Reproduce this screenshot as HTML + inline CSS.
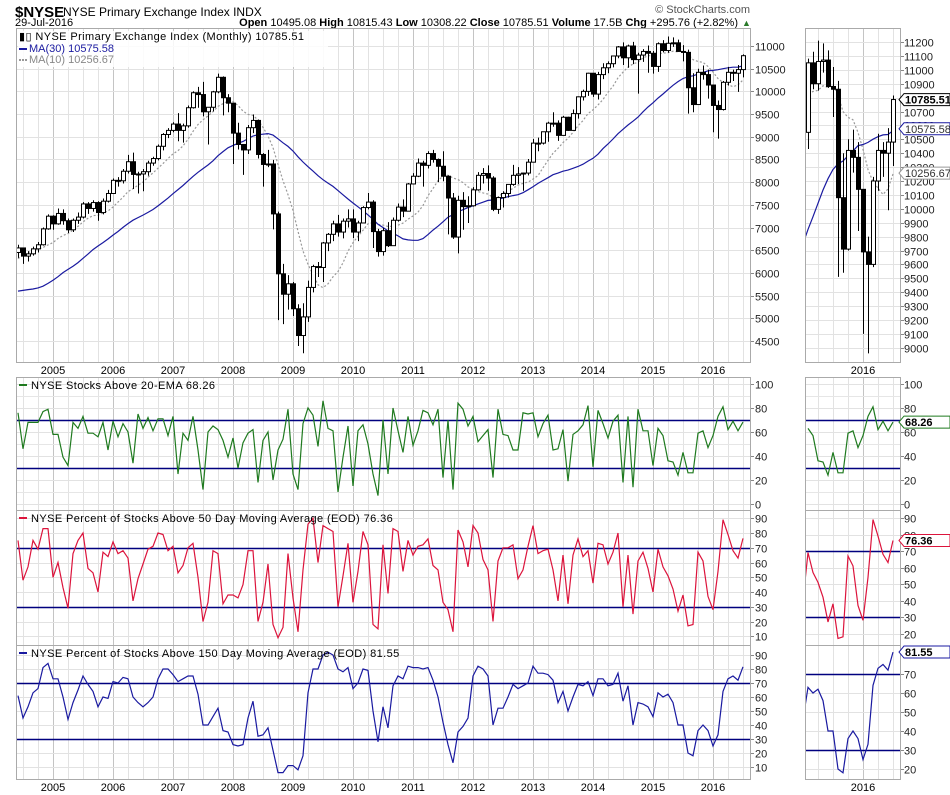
<!DOCTYPE html>
<html><head><meta charset="utf-8"><style>
body{margin:0;background:#fff;}
svg{display:block;font-family:"Liberation Sans",sans-serif;}
</style></head><body>
<svg id="c" width="950" height="795" viewBox="0 0 950 795">
<text x="15" y="17" font-size="15" font-weight="bold">$NYSE</text>
<text x="63" y="16" font-size="12">NYSE Primary Exchange Index  INDX</text>
<text x="15" y="26" font-size="11">29-Jul-2016</text>
<text x="738" y="26" font-size="11" text-anchor="end"><tspan font-weight="bold">Open</tspan> 10495.08 <tspan font-weight="bold">High</tspan> 10815.43 <tspan font-weight="bold">Low</tspan> 10308.22 <tspan font-weight="bold">Close</tspan> 10785.51 <tspan font-weight="bold">Volume</tspan> 17.5B <tspan font-weight="bold">Chg</tspan> +295.76 (+2.82%)</text>
<text x="742" y="26" font-size="9" fill="#2a7a2a">▲</text>
<text x="750" y="13" font-size="11" fill="#555" text-anchor="end">© StockCharts.com</text>
<g id="g"></g>
</svg>
<script>
// ---- data ----
const months = 146; // Jun 2004 .. Jul 2016
const preCloses = [5920,5900,6140,5880,5840,5420,4960,4990,4440,4800,5060,4850,4720,4600,4590,4960,5320,5380,5480,5600,5580,5900,5960,6440,6560,6670,6590,6400,6480];
const closes = [6550,6370,6420,6530,6620,6970,7250,
7080,7310,7150,6950,7160,7230,7520,7420,7550,7330,7580,7750,
8040,8030,8240,8450,8170,8180,8230,8420,8520,8790,9050,9140,
9280,9140,9240,9640,9970,9930,9550,9650,9990,10310,9860,9740,
9080,8830,8710,9200,9360,8610,8390,8400,7300,5980,5530,5760,
5210,4620,5030,5680,6140,6120,6660,6850,7080,6900,7140,7190,
6900,7100,7440,7560,6910,6470,6930,6600,7160,7450,7360,7960,
8130,8420,8370,8630,8500,8350,8130,7650,6790,7600,7460,7480,
7830,8150,8190,8090,7400,7660,7750,7950,8150,8180,8200,8440,
8860,8860,9110,9300,9300,9030,9430,9140,9510,9880,10000,10400,
9940,10370,10520,10610,10780,10980,10740,11000,10700,10800,10880,10840,
10550,11050,10900,11060,11070,10880,10860,10080,9710,10420,10370,10140,
9690,9600,10200,10420,10400,10480,10786];
const highs = [6620,6560,6480,6580,6680,7000,7290,
7270,7420,7400,7200,7200,7330,7560,7560,7600,7580,7640,7830,
8080,8110,8290,8600,8650,8230,8290,8470,8560,8830,9080,9190,
9320,9520,9290,9690,10000,10100,10210,9650,10010,10390,10330,9940,
9740,9310,8840,9260,9490,9380,8640,8710,8490,7350,6200,5950,
5800,5310,5330,5830,6180,6240,6680,6880,7150,7280,7200,7400,
7400,7150,7470,7760,7600,6970,6990,7120,7220,7530,7620,7980,
8200,8520,8470,8680,8710,8520,8680,8150,7760,7700,7780,7690,
7890,8220,8310,8370,8130,7680,7800,7960,8380,8330,8210,8510,
8950,8980,9110,9330,9540,9360,9460,9440,9600,9890,10040,10410,
10400,10430,10620,10660,10780,11000,11080,11030,11090,10850,10930,11010,
10890,11080,11130,11210,11190,11140,11020,10920,10400,10500,10570,10480,
10140,9800,10230,10540,10480,10580,10815];
const lows = [6330,6200,6250,6380,6450,6600,6950,
6950,7060,7060,6880,6900,7080,7200,7300,7350,7150,7290,7550,
7740,7900,7970,8190,7850,7750,7800,8140,8360,8480,8700,8970,
9100,8900,8870,9200,9620,9640,9450,8830,9560,9960,9470,9540,
8400,8720,8160,8620,9080,8520,7900,8330,6960,4960,4870,5190,
5050,4390,4230,4920,5570,5910,5800,6480,6700,6800,6760,7000,
6770,6700,7120,7400,6550,6360,6380,6570,6620,7130,7230,7400,
7950,8110,7900,8300,8430,8000,8020,6850,6750,6430,6950,7100,
7460,7810,7970,7810,7360,7300,7440,7660,7920,7960,7810,8150,
8490,8680,8830,8890,9220,8910,9080,9130,9150,9400,9800,9900,
9880,9820,10270,10400,10530,10730,10580,10520,10600,9950,10650,10410,
10390,10430,10860,10850,10980,10870,10660,9510,9540,9700,10260,9840,
9100,8960,9580,10130,10230,9990,10308];
const ema20 = [76,46,68,68,68,77,79,58,58,39,32,68,63,73,59,59,56,68,45,69,56,67,60,34,75,63,72,61,71,71,57,73,25,59,53,73,45,12,60,65,62,53,39,55,30,51,59,62,18,53,60,20,45,54,79,25,12,67,80,74,
48,86,63,61,10,39,65,15,61,66,50,25,7,70,25,80,61,43,73,49,61,78,76,66,79,22,70,12,84,79,65,73,52,57,62,22,79,58,57,45,45,76,75,76,56,67,74,45,46,62,19,58,61,66,82,31,78,67,55,69,74,18,73,14,79,61,61,32,63,57,36,35,24,43,26,26,59,61,47,57,73,81,62,69,61,68.26];
const pct50 = [75,48,57,75,69,83,83,50,60,43,29,66,75,80,56,53,40,67,64,74,66,68,63,34,49,59,69,71,80,79,68,71,53,58,70,73,50,20,33,68,66,32,38,38,36,45,68,68,20,33,59,18,9,16,66,36,13,55,86,90,60,85,83,81,30,51,73,33,54,81,72,18,15,72,39,83,81,54,75,65,71,72,76,58,55,33,28,13,82,74,57,85,80,62,55,20,61,70,70,72,49,55,71,85,66,68,69,55,34,65,32,65,76,64,68,46,73,72,59,67,80,30,65,25,61,67,56,40,69,57,51,42,27,38,17,18,67,61,37,28,54,89,79,68,63,76.36];
const pct150 = [61,45,53,63,66,81,84,73,73,60,44,56,65,75,69,64,53,60,59,71,70,74,73,60,56,53,56,60,73,80,80,76,71,73,75,75,62,40,40,46,52,36,35,26,25,26,45,57,32,33,38,22,6,6,11,11,8,18,63,80,80,90,92,90,80,78,81,66,70,80,79,50,28,53,38,68,75,73,82,81,81,80,81,72,60,42,26,13,35,39,45,75,82,80,75,40,52,52,60,69,66,68,70,82,77,77,76,72,56,64,50,60,69,68,71,61,73,73,68,69,77,57,68,40,56,55,53,46,63,60,62,56,40,40,20,18,36,40,36,25,33,64,73,75,72,81.55];
const yearLabels = ["2005","2006","2007","2008","2009","2010","2011","2012","2013","2014","2015","2016"];
const priceTicks = [11000,10500,10000,9500,9000,8500,8000,7500,7000,6500,6000,5500,5000,4500];
const zoomPriceTicks = [11200,11100,11000,10900,10800,10700,10600,10500,10400,10300,10200,10100,10000,9900,9800,9700,9600,9500,9400,9300,9200,9100,9000];
const emaTicks = [100,80,60,40,20,0];
const pctTicks = [90,80,70,60,50,40,30,20,10];
const zoomRedTicks = [90,80,70,60,50,40,30,20];
const zoomBlueTicks = [70,60,50,40,30,20];

// ---- helpers ----
const NS="http://www.w3.org/2000/svg";
const G=document.getElementById('g');
function mk(tag,attrs,parent,txt){const e=document.createElementNS(NS,tag);for(const k in attrs)e.setAttribute(k,attrs[k]);if(txt!==undefined)e.textContent=txt;(parent||G).appendChild(e);return e;}
const xL = i => 18 + 5*i;
const zStart = 128;
const xR = i => 808 + 5*(i-zStart);
const yMain = v => 46 + (11000-v)*0.04538;
const yZoom = v => 42 + (11200-v)*0.139;
const yEma = v => 504 - v*1.2;
const yRed = v => 651 - v*1.475;
const yBlue = v => 781 - v*1.4;
const yRedZ = v => 551 - (v-70)*1.65;
const yBlueZ = v => 674 - (v-70)*1.9;
const L0=16,L1=750,R0=805,R1=900;

const defs=mk('defs',{});
function clip(id,x,y,w,h){const c=mk('clipPath',{id:id},defs);mk('rect',{x:x,y:y,width:w,height:h},c);}
clip('cm',L0,28,L1-L0,334);clip('cmz',R0,28,R1-R0,334);
clip('c2',L0,377,L1-L0,133);clip('c2z',R0,377,R1-R0,133);
clip('c3',L0,510,L1-L0,135);clip('c3z',R0,510,R1-R0,135);
clip('c4',L0,645,L1-L0,134);clip('c4z',R0,645,R1-R0,134);

function vgrid(x0,x1,y0,y1,xf,i0,i1,cp){
  for(let i=i0;i<=i1;i++){
    const mo=(i+5)%12;
    if(mo%3!==0) continue;
    const x=xf(i);
    if(x<=x0||x>=x1) continue;
    const l=mk('line',{x1:x+0.5,x2:x+0.5,y1:y0,y2:y1,stroke:mo===0?'#c4c4c4':'#e2e2e2','stroke-width':1});
    
    
  }
}
function hgrid(ticks,yf,x0,x1,y0,y1,lx,name){
  ticks.forEach(t=>{const y=Math.round(yf(t))+0.5;if(y<y0||y>y1)return;
    mk('line',{x1:x0,x2:x1,y1:y,y2:y,stroke:'#e2e2e2'});
    mk('line',{x1:x1,x2:x1+4,y1:y,y2:y,stroke:'#888'});
    const t2=mk('text',{x:lx,y:y+4,'font-size':11,fill:'#222'},G,String(t));
    
    
  });
}
function box(x0,y0,x1,y1,name){const r=mk('rect',{x:x0+0.5,y:y0+0.5,width:x1-x0,height:y1-y0,fill:'none',stroke:'#aaa'});
  }
function sma(all,n,idx){let s=0;for(let k=idx-n+1;k<=idx;k++)s+=all[k];return s/n;}
const allC=preCloses.concat(closes);const off=preCloses.length;
function polyline(vals,xf,yf,i0,col,w,dash,cp,name){
  const pts=[];for(let i=i0;i<vals.length;i++)pts.push(xf(i).toFixed(1)+','+yf(vals[i]).toFixed(1));
  const p=mk('polyline',{points:pts.join(' '),fill:'none',stroke:col,'stroke-width':w,'clip-path':'url(#'+cp+')'});
  if(dash)p.setAttribute('stroke-dasharray',dash);
  
}

vgrid(L0,L1,28,362,xL,0,months-1);
vgrid(R0,R1,28,362,xR,zStart,months-1);
hgrid(priceTicks,yMain,L0,L1,28,362,755,'price-tick-label');
hgrid(zoomPriceTicks,yZoom,R0,R1,28,362,904,'zoom-price-tick-label');
const ma30=[],ma10=[];
for(let i=0;i<months;i++){ma30.push(sma(allC,30,i+off));ma10.push(sma(allC,10,i+off));}
function candles(xf,yf,i0,cp,pref){
  const g=mk('g',{'clip-path':'url(#'+cp+')'});
  for(let i=i0;i<months;i++){
    const o=i===0?6450:closes[i-1],c=closes[i],x=Math.round(xf(i));
    const w=mk('line',{x1:x+0.5,x2:x+0.5,y1:yf(highs[i]),y2:yf(lows[i]),stroke:'#000'},g);
    
    const t=Math.min(yf(o),yf(c)),b=Math.max(yf(o),yf(c));
    const r=mk('rect',{x:x-1.5,y:t,width:4,height:Math.max(b-t,1),fill:c>=o?'#fff':'#000',stroke:'#000','stroke-width':1},g);
    
  }
}
polyline(ma10,xL,yMain,0,'#999',1.2,'2,2','cm','ma10-line');
polyline(ma30,xL,yMain,0,'#1a1aa0',1.2,null,'cm','ma30-line');
candles(xL,yMain,0,'cm','price');
polyline(ma10,xR,yZoom,zStart-1,'#999',1.2,'2,2','cmz','zoom-ma10-line');
polyline(ma30,xR,yZoom,zStart-1,'#1a1aa0',1.2,null,'cmz','zoom-ma30-line');
candles(xR,yZoom,zStart,'cmz','zoom-price');
box(L0,28,L1,362,'price-panel');box(R0,28,R1,362,'zoom-price-panel');

mk('rect',{x:18,y:31,width:310,height:36,fill:'#fff','fill-opacity':0.85});
let t=mk('text',{x:19,y:40,'font-size':11,'letter-spacing':0.4},G,'▮▯ NYSE Primary Exchange Index (Monthly) 10785.51');

mk('line',{x1:19,x2:27,y1:49,y2:49,stroke:'#1a1aa0','stroke-width':2});
t=mk('text',{x:29,y:52,'font-size':11,fill:'#1a1aa0'},G,'MA(30) 10575.58');

mk('line',{x1:19,x2:27,y1:60,y2:60,stroke:'#999','stroke-width':2,'stroke-dasharray':'2,1'});
t=mk('text',{x:29,y:63,'font-size':11,fill:'#888'},G,'MA(10) 10256.67');


function tag(y,txt,col,name,bold){
  const p=mk('path',{d:`M899,${y} l5,-6 h46 v12 h-46 z`,fill:'#fff',stroke:col});
  
  const tx=mk('text',{x:905,y:y+4,'font-size':11,'font-weight':bold?'bold':'normal',fill:bold?'#000':'#333'},G,txt);
  
}
tag(yZoom(10785.51),'10785.51','#000','last-price-tag',true);
tag(yZoom(10575.58),'10575.58','#1a1aa0','ma30-tag',false);
tag(yZoom(10256.67),'10256.67','#999','ma10-tag',false);

function years(y){
  yearLabels.forEach((yl,k)=>{const x=xL(7+12*k);
    const e=mk('text',{x:x,y:y,'font-size':11,'text-anchor':'middle'},G,yl);
    });
  const e=mk('text',{x:xR(139),y:y,'font-size':11,'text-anchor':'middle'},G,'2016');
  
}
years(374);years(791);

function refLines(yf,x0,x1){[70,30].forEach(v=>{const y=Math.round(yf(v))+0.5;
  const l=mk('line',{x1:x0,x2:x1,y1:y,y2:y,stroke:'#00007f','stroke-width':1.4});
  });}
function minorH(yf,x0,x1,y0,y1){for(let v=0;v<=100;v+=10){const y=Math.round(yf(v))+0.5;if(y>y0&&y<y1)mk('line',{x1:x0,x2:x1,y1:y,y2:y,stroke:'#e6e6e6'});}}

vgrid(L0,L1,377,510,xL,0,months-1);vgrid(R0,R1,377,510,xR,zStart,months-1);
minorH(yEma,L0,L1,377,510);minorH(yEma,R0,R1,377,510);
hgrid(emaTicks,yEma,L0,L1,377,510,755,'ema-tick-label');
hgrid(emaTicks,yEma,R0,R1,377,510,904,'zoom-ema-tick-label');
refLines(yEma,L0,L1);refLines(yEma,R0,R1);
polyline(ema20,xL,yEma,0,'#1f7a1f',1.2,null,'c2','ema20-line');
polyline(ema20,xR,yEma,zStart,'#1f7a1f',1.2,null,'c2z','zoom-ema20-line');
box(L0,377,L1,510,'ema-panel');box(R0,377,R1,510,'zoom-ema-panel');
mk('line',{x1:19,x2:27,y1:385,y2:385,stroke:'#1f7a1f','stroke-width':2});
t=mk('text',{x:31,y:389,'font-size':11,'letter-spacing':0.4},G,'NYSE Stocks Above 20-EMA 68.26');

tag(yEma(68.26),'68.26','#1f7a1f','ema-value-tag',true);

vgrid(L0,L1,510,645,xL,0,months-1);vgrid(R0,R1,510,645,xR,zStart,months-1);
minorH(yRed,L0,L1,510,645);
hgrid(pctTicks,yRed,L0,L1,510,645,755,'pct50-tick-label');
hgrid(zoomRedTicks,yRedZ,R0,R1,510,645,904,'zoom-pct50-tick-label');
refLines(yRed,L0,L1);refLines(yRedZ,R0,R1);
polyline(pct50,xL,yRed,0,'#dc143c',1.2,null,'c3','pct50-line');
polyline(pct50,xR,yRedZ,zStart-1,'#dc143c',1.2,null,'c3z','zoom-pct50-line');
box(L0,510,L1,645,'pct50-panel');box(R0,510,R1,645,'zoom-pct50-panel');
mk('line',{x1:19,x2:27,y1:518,y2:518,stroke:'#dc143c','stroke-width':2});
t=mk('text',{x:31,y:522,'font-size':11,'letter-spacing':0.4},G,'NYSE Percent of Stocks Above 50 Day Moving Average (EOD) 76.36');

tag(yRedZ(76.36),'76.36','#dc143c','pct50-value-tag',true);

vgrid(L0,L1,645,779,xL,0,months-1);vgrid(R0,R1,645,779,xR,zStart,months-1);
minorH(yBlue,L0,L1,645,779);
hgrid(pctTicks,yBlue,L0,L1,645,779,755,'pct150-tick-label');
hgrid(zoomBlueTicks,yBlueZ,R0,R1,645,779,904,'zoom-pct150-tick-label');
refLines(yBlue,L0,L1);refLines(yBlueZ,R0,R1);
polyline(pct150,xL,yBlue,0,'#1a1aa0',1.2,null,'c4','pct150-line');
polyline(pct150,xR,yBlueZ,zStart-1,'#1a1aa0',1.2,null,'c4z','zoom-pct150-line');
box(L0,645,L1,779,'pct150-panel');box(R0,645,R1,779,'zoom-pct150-panel');
mk('line',{x1:19,x2:27,y1:653,y2:653,stroke:'#1a1aa0','stroke-width':2});
t=mk('text',{x:31,y:657,'font-size':11,'letter-spacing':0.4},G,'NYSE Percent of Stocks Above 150 Day Moving Average (EOD) 81.55');

tag(yBlueZ(81.55),'81.55','#1a1aa0','pct150-value-tag',true);
</script>
</body></html>
